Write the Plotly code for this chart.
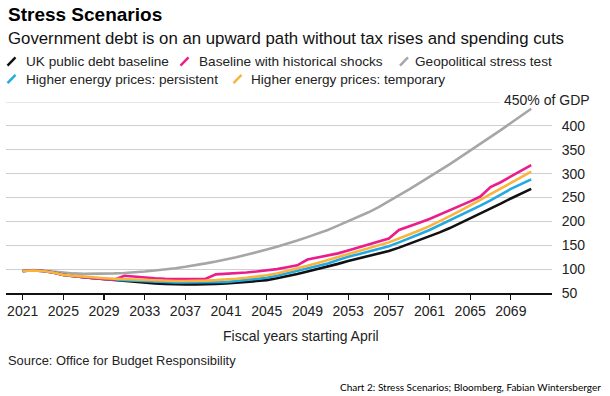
import plotly.graph_objects as go

# ---------------- data ----------------
years = list(range(2021, 2072))

uk_baseline = [96, 97, 96, 93, 88, 85, 83, 81, 79, 77, 75, 73, 72, 70, 69, 68,
               68, 68, 68, 69, 70, 71, 73, 75, 77, 81, 85, 90, 95, 100, 105, 111,
               117, 122, 127, 132, 138, 145, 153, 160, 168, 177, 186, 196,
               206, 216, 226, 237, 248, 258, 268]

historical_shocks = [96, 97, 96, 93, 88, 85, 83, 81, 79, 78, 86, 84, 82, 81, 80, 79,
                     79, 79, 80, 89, 90, 91, 93, 95, 97, 100, 104, 108, 120, 124, 128, 133,
                     139, 145, 151, 157, 164, 182, 189, 197, 205, 214, 223, 232,
                     242, 252, 272, 282, 294, 306, 318]

geopolitical = [96, 98, 97, 95, 92, 91, 90, 90, 90, 91, 92, 93, 95, 97, 99, 102,
                105, 108, 112, 116, 120, 125, 130, 135, 141, 147, 153, 160, 167, 174, 182, 191,
                200, 209, 219, 230, 242, 254, 267, 280, 293, 306, 320, 334,
                348, 362, 377, 391, 406, 421, 436]

energy_persistent = [96, 97, 96, 93, 88, 85, 83, 81, 79, 78, 77, 76, 74, 73, 72, 72,
                     72, 72, 72, 72, 73, 75, 77, 79, 82, 86, 91, 96, 102, 107, 112, 119,
                     126, 131, 137, 142, 148, 156, 164, 173, 182, 192, 202, 212,
                     222, 233, 244, 256, 268, 278, 288]

energy_temporary = [96, 97, 96, 93, 88, 86, 84, 82, 81, 80, 79, 78, 77, 76, 75, 75,
                    75, 75, 76, 77, 78, 80, 82, 84, 87, 91, 96, 101, 107, 113, 119, 125,
                    132, 138, 144, 150, 156, 164, 172, 181, 190, 200, 211, 222,
                    233, 245, 257, 269, 281, 292, 304]

series_names = ["UK public debt baseline", "Baseline with historical shocks",
                "Geopolitical stress test", "Higher energy prices: persistent",
                "Higher energy prices: temporary"]
series_colors = ["#111111", "#ec1c8c", "#a6a6a6", "#22a9e4", "#f9b53b"]

x_tick_values = list(range(2021, 2070, 4))
x_tick_labels = [str(v) for v in x_tick_values]
y_tick_values = [50, 100, 150, 200, 250, 300, 350, 400]
y_tick_labels = [str(v) for v in y_tick_values]

# ---------------- layout geometry (pixels) ----------------
W, H = 610, 396
L, R, T, B = 6, 552, 102, 293
PX_PER_YEAR = 10.17
X0_PX = 22.7  # pixel position of 2021
x_range = [2021 - (X0_PX - L) / PX_PER_YEAR, 2021 + (R - X0_PX) / PX_PER_YEAR]


def xp(px):
    return (px - L) / (R - L)


def yp(py):
    return (B - py) / (B - T)


FONT = "Liberation Sans, Arial, Helvetica, sans-serif"
GRID = "#cfcfcf"

fig = go.Figure()

series = [uk_baseline, historical_shocks, geopolitical, energy_persistent, energy_temporary]
draw_order = [2, 0, 3, 1, 4]
for i in draw_order:
    fig.add_trace(go.Scatter(
        x=years, y=series[i], mode="lines", name=series_names[i],
        line=dict(color=series_colors[i], width=2.6),
        showlegend=False, hoverinfo="skip"))

annotations = []
shapes = []

# Title and subtitle
annotations.append(dict(text="<b>Stress Scenarios</b>", x=xp(5.5), y=yp(14.5),
                        font=dict(family=FONT, size=19, color="#000")))
annotations.append(dict(text="Government debt is on an upward path without tax rises and spending cuts",
                        x=xp(5.5), y=yp(38.5), font=dict(family=FONT, size=16.8, color="#111")))

# Manual legend (slash keys + labels)
legend_pos = [(7.5, 61.5, 24), (180.5, 61.5, 197), (400, 61.5, 412.5),
              (7.5, 79, 24), (233.5, 79, 248.5)]
for (sx, sy, tx), name, col in zip(legend_pos, series_names, series_colors):
    shapes.append(dict(type="line", xref="paper", yref="paper",
                       x0=xp(sx), y0=yp(sy + 4.2), x1=xp(sx + 8), y1=yp(sy - 4.2),
                       line=dict(color=col, width=2.4)))
    annotations.append(dict(text=name, x=xp(tx), y=yp(sy),
                            font=dict(family=FONT, size=13.6, color="#222")))

# 450 gridline (partial) and its label
shapes.append(dict(type="line", xref="paper", yref="y", x0=0, x1=xp(500), y0=450, y1=450,
                   line=dict(color=GRID, width=1), layer="below"))
annotations.append(dict(text="450% of GDP", x=xp(501.5), y=yp(100),
                        font=dict(family=FONT, size=14, color="#222")))

# Axis title, source and footer
annotations.append(dict(text="Fiscal years starting April", x=xp(300.5), y=yp(336),
                        xanchor="center", font=dict(family=FONT, size=14, color="#222")))
annotations.append(dict(text="Source: Office for Budget Responsibility", x=xp(5.5), y=yp(360),
                        font=dict(family=FONT, size=12.9, color="#222")))
annotations.append(dict(text="Chart 2: Stress Scenarios; Bloomberg, Fabian Wintersberger",
                        x=xp(603), y=yp(386.5), xanchor="right",
                        font=dict(family="Lato, sans-serif", size=10, color="#000")))

for a in annotations:
    a.setdefault("xref", "paper")
    a.setdefault("yref", "paper")
    a.setdefault("xanchor", "left")
    a.setdefault("yanchor", "middle")
    a.setdefault("showarrow", False)

fig.update_layout(
    width=W, height=H,
    margin=dict(l=L, r=W - R, t=T, b=H - B, pad=0),
    paper_bgcolor="white", plot_bgcolor="white",
    showlegend=False,
    annotations=annotations, shapes=shapes,
    xaxis=dict(range=x_range, tickmode="array", tickvals=x_tick_values, ticktext=x_tick_labels,
               showgrid=False, zeroline=False, showline=True, linecolor="#111", linewidth=1.5,
               ticks="outside", ticklen=5, tickwidth=1.2, tickcolor="#111",
               tickfont=dict(family=FONT, size=14, color="#222"), fixedrange=True),
    yaxis=dict(range=[50, 450], side="right", tickmode="array", tickvals=y_tick_values,
               ticktext=y_tick_labels, showgrid=True, gridcolor=GRID, gridwidth=1.2,
               zeroline=False, showline=False, ticks="outside", ticklen=6,
               tickcolor="rgba(0,0,0,0)", tickfont=dict(family=FONT, size=14, color="#222"),
               fixedrange=True),
)

fig.write_html("out.html", config={"displayModeBar": False, "staticPlot": True},
               post_script="document.body.style.margin='0';document.body.style.overflow='hidden';")
